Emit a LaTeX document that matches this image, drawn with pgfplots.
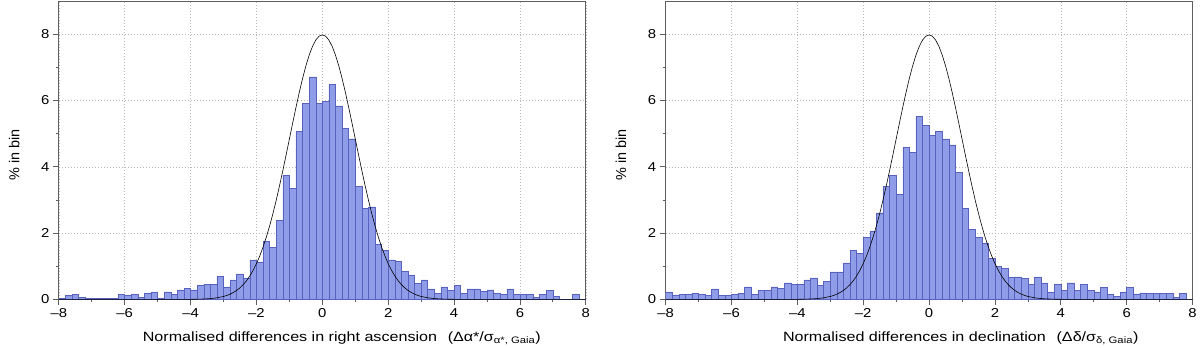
\documentclass[border=0pt]{standalone}
\usepackage{fontspec}
\setmainfont{Liberation Sans}
\newfontfamily\tickfont{Liberation Sans}[FakeStretch=1.15]
\newfontfamily\labfont{Liberation Sans}[FakeStretch=1.2]
\usepackage{pgfplots}
\usepackage{pgfplotstable}
\pgfplotsset{compat=1.18}

\definecolor{barfill}{RGB}{143,156,232}
\definecolor{baredge}{RGB}{88,98,190}
\definecolor{axgray}{RGB}{95,95,95}

% left edges of 0.2-wide bins, percentage in bin (last row closes the interval)
\pgfplotstableread{
x y
-8.0 0.04
-7.8 0.11
-7.6 0.15
-7.4 0.05
-7.2 0.04
-7.0 0.04
-6.8 0.04
-6.6 0.02
-6.4 0.03
-6.2 0.14
-6.0 0.12
-5.8 0.15
-5.6 0.05
-5.4 0.19
-5.2 0.23
-5.0 0.04
-4.8 0.23
-4.6 0.15
-4.4 0.29
-4.2 0.33
-4.0 0.29
-3.8 0.42
-3.6 0.46
-3.4 0.46
-3.2 0.69
-3.0 0.38
-2.8 0.59
-2.6 0.77
-2.4 0.65
-2.2 1.19
-2.0 1.13
-1.8 1.74
-1.6 1.57
-1.4 2.38
-1.2 3.74
-1.0 3.34
-0.8 5.07
-0.6 5.92
-0.4 6.71
-0.2 5.92
0.0 5.98
0.2 6.48
0.4 5.84
0.6 5.16
0.8 4.84
1.0 3.42
1.2 2.75
1.4 2.79
1.6 1.65
1.8 1.48
2.0 1.19
2.2 1.14
2.4 0.84
2.6 0.74
2.8 0.48
3.0 0.59
3.2 0.32
3.4 0.18
3.6 0.38
3.8 0.28
4.0 0.42
4.2 0.18
4.4 0.32
4.6 0.32
4.8 0.24
5.0 0.29
5.2 0.19
5.4 0.14
5.6 0.32
5.8 0.14
6.0 0.14
6.2 0.14
6.4 0.05
6.6 0.14
6.8 0.28
7.0 0.10
7.2 0.00
7.4 0.00
7.6 0.14
7.8 0.00
8.0 0.00
}\rahist

\pgfplotstableread{
x y
-8.0 0.23
-7.8 0.11
-7.6 0.15
-7.4 0.15
-7.2 0.19
-7.0 0.15
-6.8 0.11
-6.6 0.32
-6.4 0.11
-6.2 0.11
-6.0 0.15
-5.8 0.19
-5.6 0.38
-5.4 0.15
-5.2 0.28
-5.0 0.28
-4.8 0.38
-4.6 0.33
-4.4 0.50
-4.2 0.46
-4.0 0.46
-3.8 0.59
-3.6 0.65
-3.4 0.42
-3.2 0.55
-3.0 0.83
-2.8 0.83
-2.6 1.10
-2.4 1.47
-2.2 1.39
-2.0 1.88
-1.8 2.06
-1.6 2.61
-1.4 3.42
-1.2 3.74
-1.0 3.16
-0.8 4.58
-0.6 4.43
-0.4 5.53
-0.2 5.25
0.0 4.94
0.2 5.07
0.4 4.84
0.6 4.66
0.8 3.84
1.0 2.74
1.2 2.11
1.4 1.88
1.6 1.70
1.8 1.23
2.0 1.00
2.2 0.94
2.4 0.68
2.6 0.68
2.8 0.64
3.0 0.45
3.2 0.68
3.4 0.50
3.6 0.23
3.8 0.45
4.0 0.28
4.2 0.50
4.4 0.28
4.6 0.45
4.8 0.28
5.0 0.23
5.2 0.37
5.4 0.14
5.6 0.10
5.8 0.23
6.0 0.37
6.2 0.17
6.4 0.20
6.6 0.18
6.8 0.18
7.0 0.18
7.2 0.18
7.4 0.05
7.6 0.19
7.8 0.00
8.0 0.00
}\dechist

% unit normal curve scaled to the 0.2 bin width, as drawn
\pgfplotstableread{
x y
-8.0 0.0
-4.5 0.0003
-4.0 0.0027
-3.8 0.0058
-3.6 0.0122
-3.4 0.0246
-3.2 0.0477
-3.0 0.0886
-2.9 0.1191
-2.8 0.1583
-2.7 0.2084
-2.6 0.2717
-2.5 0.3506
-2.4 0.4479
-2.3 0.5665
-2.2 0.7095
-2.1 0.880
-2.0 1.080
-1.9 1.312
-1.8 1.579
-1.7 1.881
-1.6 2.218
-1.5 2.590
-1.4 2.995
-1.3 3.427
-1.2 3.884
-1.1 4.357
-1.0 4.839
-0.9 5.322
-0.8 5.794
-0.7 6.245
-0.6 6.665
-0.5 7.041
-0.4 7.366
-0.3 7.628
-0.2 7.821
-0.1 7.939
0.0 7.979
0.1 7.939
0.2 7.821
0.3 7.628
0.4 7.366
0.5 7.041
0.6 6.665
0.7 6.245
0.8 5.794
0.9 5.322
1.0 4.839
1.1 4.357
1.2 3.884
1.3 3.427
1.4 2.995
1.5 2.590
1.6 2.218
1.7 1.881
1.8 1.579
1.9 1.312
2.0 1.080
2.1 0.880
2.2 0.7095
2.3 0.5665
2.4 0.4479
2.5 0.3506
2.6 0.2717
2.7 0.2084
2.8 0.1583
2.9 0.1191
3.0 0.0886
3.2 0.0477
3.4 0.0246
3.6 0.0122
3.8 0.0058
4.0 0.0027
4.5 0.0003
8.0 0.0
}\gauss

\pgfplotsset{histo/.style={
  scale only axis, width=528bp, height=299bp,
  xmin=-8, xmax=8, ymin=0, ymax=9,
  xtick={-8,-6,...,8}, xticklabels={–8,–6,–4,–2,0,2,4,6,8},
  ytick={0,2,4,6,8}, yticklabels={0,2,4,6,8},
  minor xtick={-7,-5,...,7}, minor ytick={1,3,5,7},
  tick align=outside, tick pos=left,
  major tick length=6bp, minor tick length=3bp,
  grid=major, major grid style={gray!55, line width=0.5bp, dash pattern=on 1bp off 2bp},
  axis line style={axgray, line width=0.8bp},
  every tick/.style={axgray, line width=0.8bp},
  tick label style={font=\tickfont\fontsize{13}{15}\selectfont},
  ylabel={\% in bin},
  ylabel style={at={(axis description cs:-0.0752,0.485)}, anchor=base,
    font=\fontsize{14.5}{16}\selectfont},
  xlabel style={font=\labfont\fontsize{13.5}{16}\selectfont},
}}

\begin{document}
\begin{tikzpicture}
\begin{axis}[histo,
  xlabel={Normalised differences in right ascension\hspace{0.8em}(Δα*/σ\textsubscript{α*, Gaia})},
  xlabel style={at={(axis description cs:0.537,-0.1405)}, anchor=base}]
\addplot[ybar interval, fill=barfill, draw=baredge, line width=0.5bp] table[x=x,y=y] {\rahist};
\addplot[black, line width=0.6bp] table[x=x,y=y] {\gauss};
\end{axis}
\begin{axis}[histo, at={(608bp,0)},
  xlabel={Normalised differences in declination\hspace{0.8em}(Δδ/σ\textsubscript{δ, Gaia})},
  xlabel style={at={(axis description cs:0.560,-0.1405)}, anchor=base}]
\addplot[ybar interval, fill=barfill, draw=baredge, line width=0.5bp] table[x=x,y=y] {\dechist};
\addplot[black, line width=0.6bp] table[x=x,y=y] {\gauss};
\end{axis}
\path[use as bounding box] (-59bp,-47bp) rectangle (1141bp,300bp);
\end{tikzpicture}
\end{document}
